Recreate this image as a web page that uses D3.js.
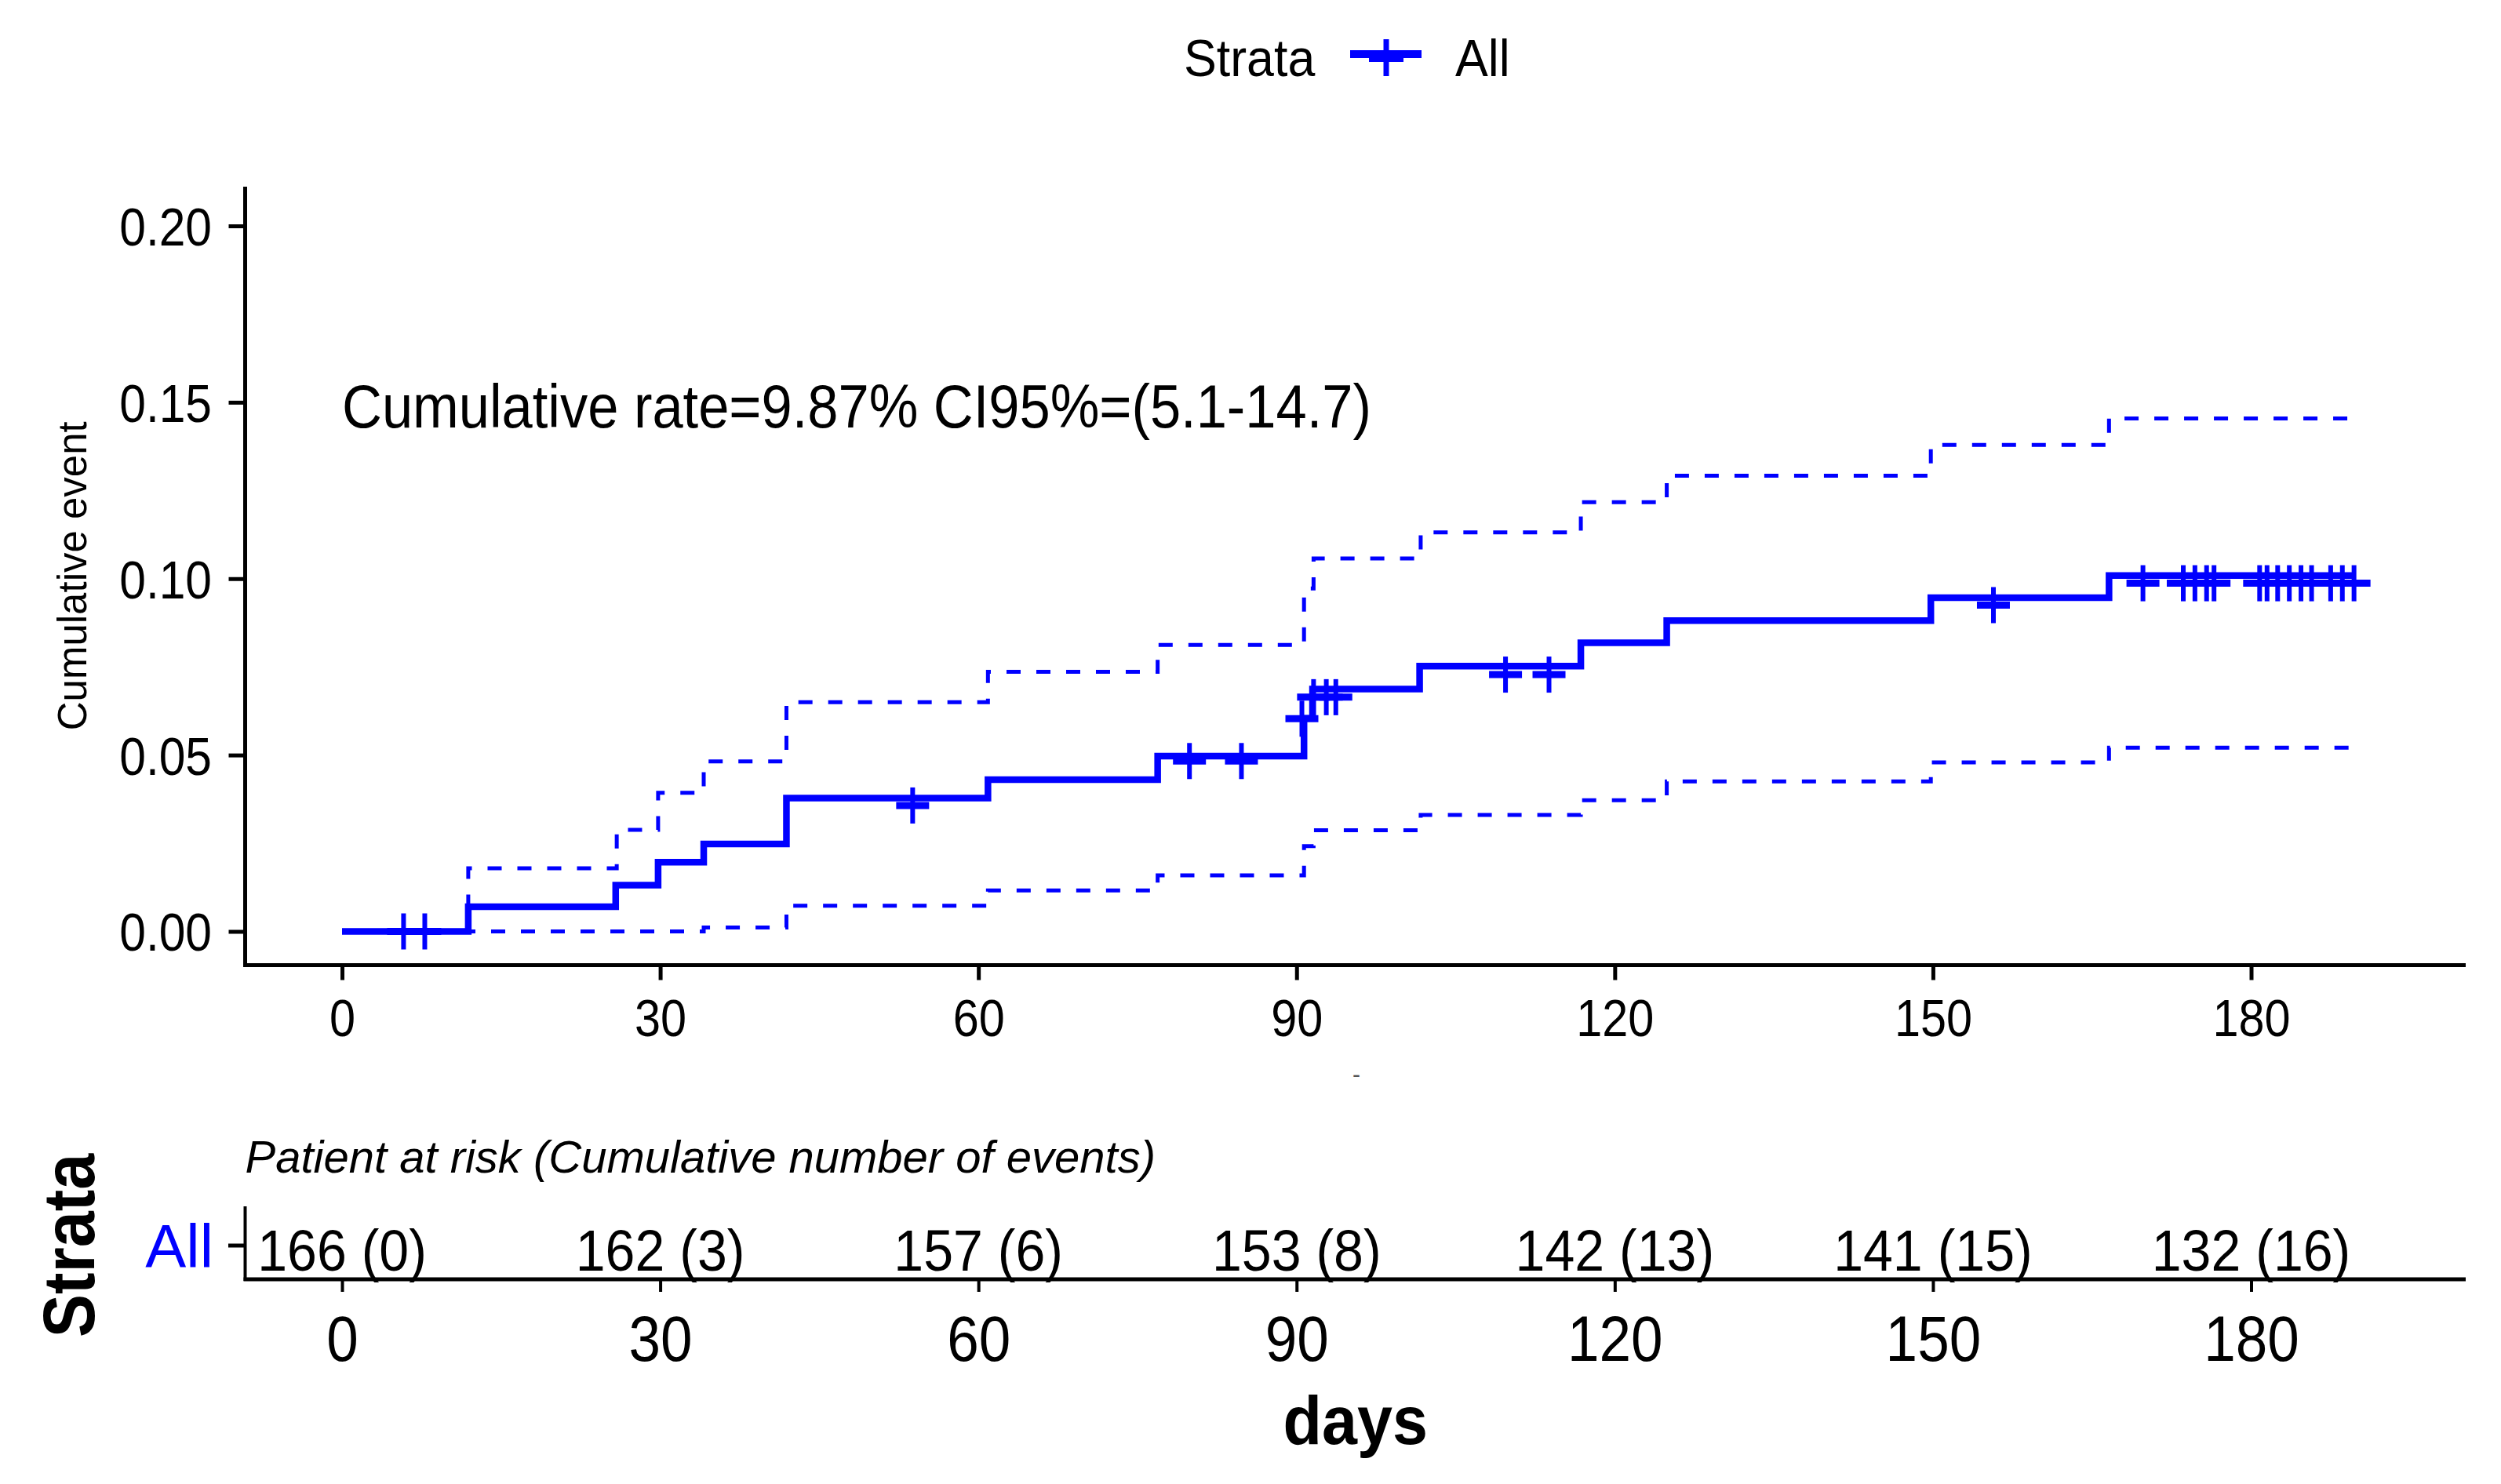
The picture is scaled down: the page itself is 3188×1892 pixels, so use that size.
<!DOCTYPE html>
<html lang="en">
<head>
    <meta charset="UTF-8">
    <title>Cumulative event</title>
    <script src="https://d3js.org/d3.v7.min.js"></script>
    <style>
        body {
            margin: 0;
            background: white;
        }
        text {
            font-family: "Liberation Sans", Arial, sans-serif;
        }
    </style>
</head>
<body>
<svg id="viz"></svg>
<script>
    // step curve (days, cumulative event)
    var curveDays = [0, 11.9, 25.8, 29.8, 34.1, 41.9, 60.9, 76.9, 90.7, 91.5, 101.6, 116.8, 124.9, 149.8, 166.6, 189.7];
    var curveRate = [0, 0.0070, 0.0131, 0.0196, 0.0248, 0.0378, 0.0430, 0.0497, 0.0604, 0.0687, 0.0752, 0.0818, 0.0881, 0.0946, 0.1009, 0.1009];

    var upperDays = [0, 11.9, 25.9, 29.8, 34.1, 41.9, 60.9, 76.9, 90.7, 91.6, 101.7, 116.8, 124.9, 149.8, 166.6, 189.5];
    var upperRate = [0, 0.0179, 0.0288, 0.0393, 0.0482, 0.0650, 0.0736, 0.0812, 0.0972, 0.1057, 0.1131, 0.1217, 0.1292, 0.1379, 0.1454, 0.1454];

    var lowerDays = [0, 34.1, 41.9, 60.9, 76.9, 90.7, 91.6, 101.7, 116.8, 124.9, 149.8, 166.6, 189.5];
    var lowerRate = [0, 0.0011, 0.0073, 0.0116, 0.0159, 0.0242, 0.0287, 0.0330, 0.0372, 0.0425, 0.0479, 0.0521, 0.0521];

    // censored patients
    var censorDays = [5.8, 7.8, 53.8, 79.9, 84.8, 90.5, 91.6, 92.8, 93.7, 109.7, 113.8, 155.7,
        169.8, 173.6, 174.7, 175.8, 176.5, 180.8, 181.5, 182.5, 183.6, 184.7, 185.7, 187.5, 188.6, 189.7];
    var censorRate = [0, 0, 0.0357, 0.0483, 0.0483, 0.0603, 0.0664, 0.0664, 0.0664, 0.0728, 0.0728, 0.0925,
        0.0987, 0.0987, 0.0987, 0.0987, 0.0987, 0.0987, 0.0987, 0.0987, 0.0987, 0.0987, 0.0987, 0.0987, 0.0987, 0.0987];

    // risk table
    var times = [0, 30, 60, 90, 120, 150, 180];
    var atRisk = [166, 162, 157, 153, 142, 141, 132];
    var events = [0, 3, 6, 8, 13, 15, 16];
    var yTicks = [0, 0.05, 0.10, 0.15, 0.20];

    var blue = "#0000ff";
    var W = 3188, H = 1892;
    var panelLeft = 312.5, panelRight = 3143, panelTop = 238, panelBottom = 1230.5;
    var riskTop = 1538, riskBottom = 1631, riskRow = 1588;

    var svg = d3.select("#viz")
        .attr("width", W)
        .attr("height", H);

    var xScale = d3.scaleLinear().domain([0, 180]).range([436, 2869.5]);
    var yScale = d3.scaleLinear().domain([0, 0.2]).range([1187.5, 288]);

    function label(parent, x, y, s, o) {
        var t = parent.append("g")
            .attr("transform", "translate(" + x + "," + y + ") rotate(" + (o.rot || 0) + ") scale(" + (o.sx || 1) + ",1)")
            .append("text")
            .attr("text-anchor", o.anchor || "start")
            .attr("font-size", o.size)
            .attr("fill", o.fill || "black")
            .text(s);
        if (o.bold) t.attr("font-weight", "bold");
        if (o.italic) t.attr("font-style", "italic");
        return t;
    }

    function toPoints(days, vals) {
        return days.map(function (d, i) { return [d, vals[i]]; });
    }

    var step = d3.line()
        .x(function (d) { return xScale(d[0]); })
        .y(function (d) { return yScale(d[1]); })
        .curve(d3.curveStepAfter);

    // legend
    label(svg, 1509, 97, "Strata", {size: 66, sx: 0.95});
    svg.append("line").attr("x1", 1721).attr("x2", 1812).attr("y1", 69).attr("y2", 69)
        .attr("stroke", blue).attr("stroke-width", 10);
    svg.append("line").attr("x1", 1767).attr("x2", 1767).attr("y1", 50).attr("y2", 97)
        .attr("stroke", blue).attr("stroke-width", 7);
    svg.append("line").attr("x1", 1745).attr("x2", 1789).attr("y1", 76).attr("y2", 76)
        .attr("stroke", blue).attr("stroke-width", 6);
    label(svg, 1855, 97, "All", {size: 66, sx: 0.95});

    // ---- main panel ----
    var g = svg.append("g");

    g.append("path")
        .datum(toPoints(upperDays, upperRate))
        .attr("d", step)
        .attr("fill", "none").attr("stroke", blue)
        .attr("stroke-width", 5).attr("stroke-dasharray", "18,20");
    g.append("path")
        .datum(toPoints(lowerDays, lowerRate))
        .attr("d", step)
        .attr("fill", "none").attr("stroke", blue)
        .attr("stroke-width", 5).attr("stroke-dasharray", "18,20");
    g.append("path")
        .datum(toPoints(curveDays, curveRate))
        .attr("d", step)
        .attr("fill", "none").attr("stroke", blue)
        .attr("stroke-width", 8.5);

    var cens = g.selectAll("g.cens")
        .data(toPoints(censorDays, censorRate))
        .enter().append("g")
        .attr("class", "cens")
        .attr("transform", function (d) { return "translate(" + xScale(d[0]) + "," + yScale(d[1]) + ")"; });
    cens.append("line").attr("x1", 0).attr("x2", 0).attr("y1", -23).attr("y2", 23)
        .attr("stroke", blue).attr("stroke-width", 6);
    cens.append("line").attr("x1", -21).attr("x2", 21).attr("y1", 0).attr("y2", 0)
        .attr("stroke", blue).attr("stroke-width", 9);

    label(g, xScale(0), 545, "Cumulative rate=9.87% CI95%=(5.1-14.7)", {size: 77, sx: 0.915});

    // axes
    var yAxis = d3.axisLeft(yScale).tickValues(yTicks).tickFormat(d3.format(".2f")).tickSize(21);
    var ya = g.append("g").attr("transform", "translate(" + panelLeft + ",0)").call(yAxis);
    ya.select(".domain").remove();
    ya.selectAll(".tick line").attr("stroke", "black").attr("stroke-width", 5);
    ya.selectAll(".tick text")
        .attr("font-size", 68).attr("fill", "black")
        .attr("font-family", "Liberation Sans, Arial, sans-serif")
        .attr("x", -42.5 / 0.89).attr("dy", "0.36em")
        .attr("transform", "scale(0.89,1)");

    var xAxis = d3.axisBottom(xScale).tickValues(times).tickSize(19);
    var xa = g.append("g").attr("transform", "translate(0," + panelBottom + ")").call(xAxis);
    xa.select(".domain").remove();
    xa.selectAll(".tick line").attr("stroke", "black").attr("stroke-width", 5);
    xa.selectAll(".tick text")
        .attr("font-size", 66).attr("fill", "black")
        .attr("font-family", "Liberation Sans, Arial, sans-serif")
        .attr("y", 67).attr("dy", "0.36em")
        .attr("transform", "scale(0.9,1)");

    g.append("line").attr("x1", panelLeft).attr("x2", panelLeft).attr("y1", panelTop).attr("y2", panelBottom + 2.5)
        .attr("stroke", "black").attr("stroke-width", 5);
    g.append("line").attr("x1", panelLeft - 2.5).attr("x2", panelRight).attr("y1", panelBottom).attr("y2", panelBottom)
        .attr("stroke", "black").attr("stroke-width", 5);

    label(g, 92, (panelTop + panelBottom) / 2, "Cumulative event", {size: 51, rot: -90, anchor: "middle"})
        .attr("dy", "0.35em");
    label(g, 1729, 1380, "-", {size: 30, fill: "#555", anchor: "middle"});

    // ---- risk table ----
    var r = svg.append("g");
    label(r, panelLeft, 1495, "Patient at risk (Cumulative number of events)", {size: 58, italic: true});

    r.selectAll("g.risk")
        .data(times)
        .enter().append("g")
        .attr("class", "risk")
        .attr("transform", function (d) { return "translate(" + xScale(d) + "," + 1620 + ") scale(0.92,1)"; })
        .append("text")
        .attr("text-anchor", "middle")
        .attr("font-size", 74)
        .text(function (d, i) { return atRisk[i] + " (" + events[i] + ")"; });

    var rx = r.append("g").attr("transform", "translate(0," + riskBottom + ")")
        .call(d3.axisBottom(xScale).tickValues(times).tickSize(16));
    rx.select(".domain").remove();
    rx.selectAll(".tick line").attr("stroke", "black").attr("stroke-width", 4);
    rx.selectAll(".tick text")
        .attr("font-size", 81).attr("fill", "black")
        .attr("font-family", "Liberation Sans, Arial, sans-serif")
        .attr("y", 75).attr("dy", "0.36em")
        .attr("transform", "scale(0.9,1)");

    r.append("line").attr("x1", panelLeft).attr("x2", panelLeft).attr("y1", riskTop).attr("y2", riskBottom + 2)
        .attr("stroke", "black").attr("stroke-width", 4);
    r.append("line").attr("x1", panelLeft - 2).attr("x2", panelRight).attr("y1", riskBottom).attr("y2", riskBottom)
        .attr("stroke", "black").attr("stroke-width", 5);
    r.append("line").attr("x1", 291).attr("x2", panelLeft).attr("y1", riskRow).attr("y2", riskRow)
        .attr("stroke", "black").attr("stroke-width", 5);

    label(r, 272, riskRow, "All", {size: 78, anchor: "end", fill: blue}).attr("dy", "0.36em");
    label(r, 87, riskRow, "Strata", {size: 92, rot: -90, anchor: "middle", bold: true, sx: 0.9}).attr("dy", "0.36em");
    label(r, (panelLeft + panelRight) / 2, 1841, "days", {size: 88, bold: true, anchor: "middle", sx: 0.92});
</script>
</body>
</html>
